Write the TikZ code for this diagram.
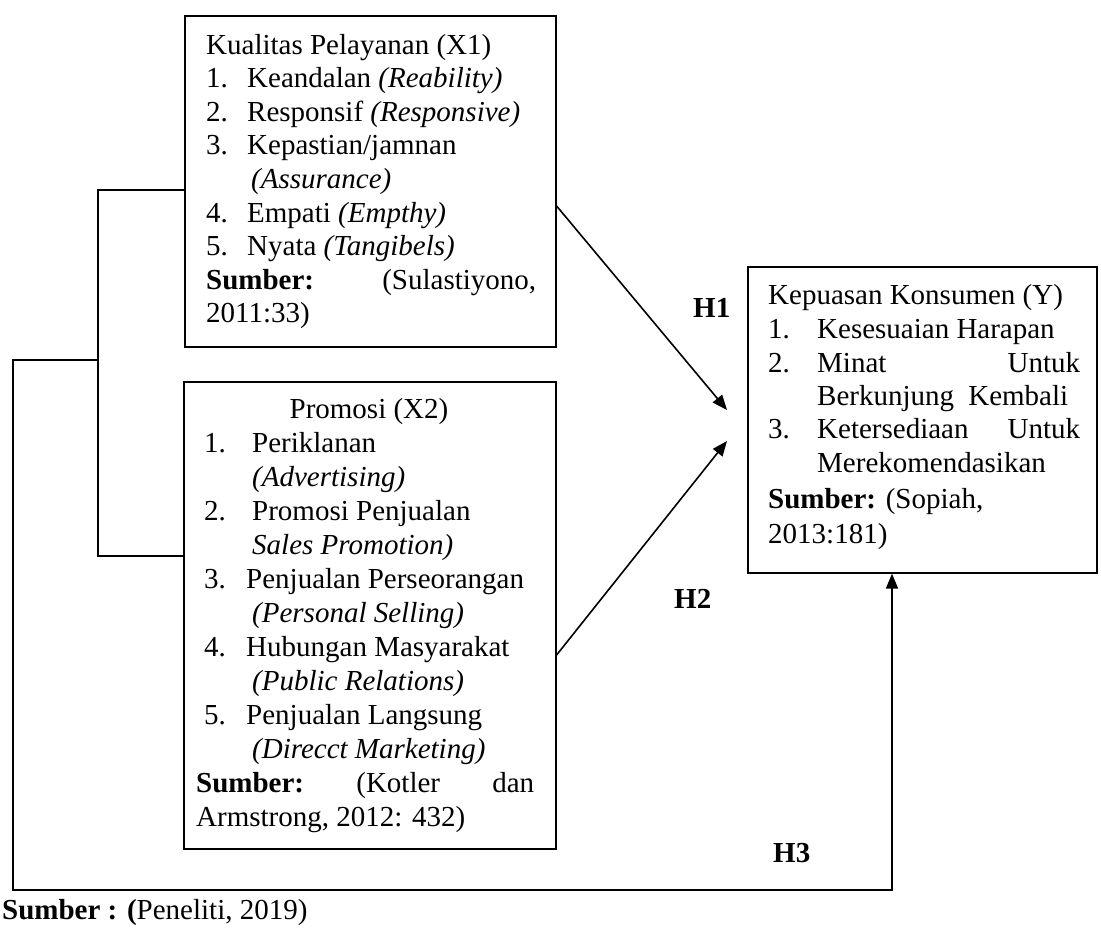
\documentclass[tikz,border=0pt]{standalone}
\usepackage{fontspec}
\setmainfont{Liberation Serif}
\usetikzlibrary{arrows.meta}
\tikzset{
  box/.style={draw, line width=1.6pt, rectangle, inner sep=0pt, anchor=north west},
  txt/.style={anchor=base west, inner sep=0pt, font=\fontsize{29pt}{34pt}\selectfont},
  hlab/.style={anchor=base west, inner sep=0pt, font=\fontsize{29pt}{34pt}\selectfont\bfseries},
  conn/.style={line width=1.6pt},
  arr/.style={conn, -{Triangle[length=15pt,width=12pt]}},
}
\begin{document}
\begin{tikzpicture}[x=1pt,y=-1pt]
\useasboundingbox (0,0) rectangle (1101,929);
% boxes
\node[box, minimum width=371pt, minimum height=331pt] (x1) at (184,15) {};
\node[box, minimum width=372pt, minimum height=467pt] (x2) at (183,381) {};
\node[box, minimum width=349pt, minimum height=306pt] (yb) at (747,266) {};
% X1 text
\node[txt] (x1t0) at (206,54) {Kualitas Pelayanan (X1)};
\node[txt] (x1n1) at (206,87.6) {1.};
\node[txt] (x1i1) at (247,87.6) {Keandalan \textit{(Reability)}};
\node[txt] (x1n2) at (206,121.2) {2.};
\node[txt] (x1i2) at (247,121.2) {Responsif \textit{(Responsive)}};
\node[txt] (x1n3) at (206,154.8) {3.};
\node[txt] (x1i3) at (247,154.8) {Kepastian/jamnan};
\node[txt] (x1i3b) at (251,188.4) {\textit{(Assurance)}};
\node[txt] (x1n4) at (206,222) {4.};
\node[txt] (x1i4) at (247,222) {Empati \textit{(Empthy)}};
\node[txt] (x1n5) at (206,255.6) {5.};
\node[txt] (x1i5) at (247,255.6) {Nyata \textit{(Tangibels)}};
\node[txt] (x1s1) at (206,289.2) {\makebox[330pt][l]{\textbf{Sumber:}\hfill(Sulastiyono,}};
\node[txt] (x1s2) at (206,322.8) {2011:33)};
% X2 text
\node[txt, anchor=base] (x2t0) at (369,418) {Promosi (X2)};
\node[txt] (x2n1) at (204,452) {1.};
\node[txt] (x2i1) at (252,452) {Periklanan};
\node[txt] (x2i1b) at (252,486) {\textit{(Advertising)}};
\node[txt] (x2n2) at (204,520) {2.};
\node[txt] (x2i2) at (252,520) {Promosi Penjualan};
\node[txt] (x2i2b) at (252,554) {\textit{Sales Promotion)}};
\node[txt] (x2n3) at (204,588) {3.};
\node[txt] (x2i3) at (246,588) {Penjualan Perseorangan};
\node[txt] (x2i3b) at (252,622) {\textit{(Personal Selling)}};
\node[txt] (x2n4) at (204,656) {4.};
\node[txt] (x2i4) at (246,656) {Hubungan Masyarakat};
\node[txt] (x2i4b) at (252,690) {\textit{(Public Relations)}};
\node[txt] (x2n5) at (204,724) {5.};
\node[txt] (x2i5) at (246,724) {Penjualan Langsung};
\node[txt] (x2i5b) at (252,758) {\textit{(Direcct Marketing)}};
\node[txt] (x2s1) at (196,792) {\makebox[338pt][l]{\textbf{Sumber:}\hfill(Kotler\hfill dan}};
\node[txt] (x2s2) at (196,826) {Armstrong, 2012: 432)};
% Y text
\node[txt] (yt0) at (768,304) {Kepuasan Konsumen (Y)};
\node[txt] (yn1) at (768,338) {1.};
\node[txt] (yi1) at (817,338) {Kesesuaian Harapan};
\node[txt] (yn2) at (768,372) {2.};
\node[txt] (yi2) at (817,372) {\makebox[263pt][l]{Minat\hfill Untuk}};
\node[txt] (yi2b) at (817,405) {\makebox[251pt][l]{Berkunjung\hfill Kembali}};
\node[txt] (yn3) at (768,438) {3.};
\node[txt] (yi3) at (817,438) {\makebox[263pt][l]{Ketersediaan\hfill Untuk}};
\node[txt] (yi3b) at (817,472) {Merekomendasikan};
\node[txt] (ys1) at (768,508) {\textbf{Sumber:} (Sopiah,};
\node[txt] (ys2) at (768,543) {2013:181)};
% hypothesis labels
\node[hlab] (h1) at (693,317) {H1};
\node[hlab] (h2) at (674,608) {H2};
\node[hlab] (h3) at (773,862) {H3};
% caption
\node[txt] (cap) at (2,919) {\textbf{Sumber : (}Peneliti, 2019)};
% connectors
\coordinate (h1s) at ([yshift=-191pt]x1.north east);
\coordinate (h1e) at (727,410);
\draw[arr] (h1s) -- (h1e);
\coordinate (h2s) at ([yshift=-274pt]x2.north east);
\coordinate (h2e) at (727,441);
\draw[arr] (h2s) -- (h2e);
\coordinate (b1) at (98,190);
\coordinate (b2) at (98,556);
\draw[conn] (b1 -| x1.west) -- (b1) -- (b2) -- (b2 -| x2.west);
\coordinate (b3) at (98,360);
\coordinate (l1) at (13,360);
\coordinate (l2) at (13,890);
\coordinate (yin) at ([xshift=145pt]yb.south west);
\draw[arr] (b3) -- (l1) -- (l2) -| (yin);
\end{tikzpicture}
\end{document}
